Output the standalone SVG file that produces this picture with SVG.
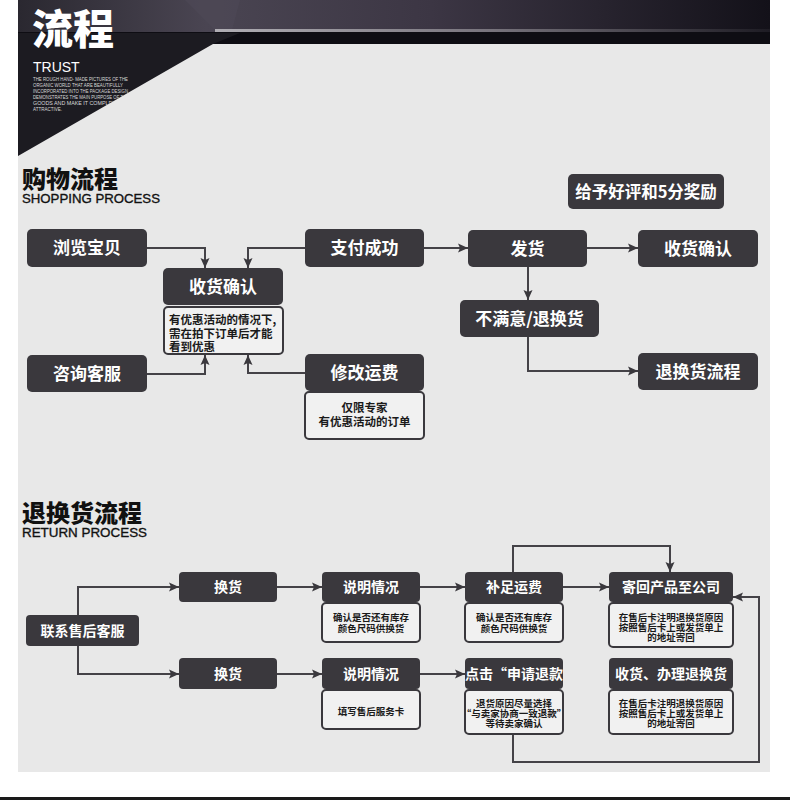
<svg xmlns="http://www.w3.org/2000/svg" width="790" height="800" viewBox="0 0 790 800">
<defs>
<style>
.nd{fill:#3a383d}
.nt{fill:#ffffff;font-family:"Noto Sans CJK SC","Liberation Sans",sans-serif;font-weight:700;text-anchor:middle}
.nb{fill:#f1f1f1;stroke:#3a383d;stroke-width:2}
.bt{fill:#1a1a1a;font-family:"Noto Sans CJK SC","Liberation Sans",sans-serif;font-weight:700;text-anchor:middle}
.cn{fill:none;stroke:#444247;stroke-width:2}
.hd{fill:#111;font-family:"Noto Sans CJK SC",sans-serif;font-weight:900;font-size:24px}
.en{fill:#111;stroke:#111;stroke-width:0.35;font-family:"Liberation Sans",Arial,sans-serif;font-size:13.5px}
.tiny{fill:#d8d8d8;font-family:"Liberation Sans",Arial,sans-serif;font-size:4.6px}
</style>
<marker id="ah" markerUnits="userSpaceOnUse" markerWidth="10" markerHeight="10" viewBox="0 0 10 10" refX="10" refY="5" orient="auto">
<path d="M0,0.5 L10,5 L0,9.5 L2,5 z" fill="#3a383d"/>
</marker>
<linearGradient id="topg" x1="0" y1="0" x2="1" y2="0">
<stop offset="0" stop-color="#2a2830"/>
<stop offset="0.25" stop-color="#4a4552"/>
<stop offset="0.55" stop-color="#3c3644"/>
<stop offset="1" stop-color="#131119"/>
</linearGradient>
<linearGradient id="lineg" x1="0" y1="0" x2="1" y2="0">
<stop offset="0" stop-color="#b0aeb4"/>
<stop offset="0.5" stop-color="#77737c"/>
<stop offset="1" stop-color="#1e1c24"/>
</linearGradient>
<clipPath id="tri"><polygon points="18,33 240,33 213,44 18,156"/></clipPath>
</defs>
<rect x="0" y="0" width="790" height="800" fill="#ffffff"/>
<rect x="18" y="0" width="752" height="772" fill="#e8e8e8"/>
<g id="header">
<rect x="18" y="0" width="752" height="33" fill="url(#topg)"/>
<polygon points="185,0 240,0 232,30 215,30" fill="#4e4956" opacity="0.6"/>
<rect x="215" y="29" width="555" height="3" fill="url(#lineg)"/>
<rect x="18" y="32" width="752" height="12" fill="#0e0d13"/>
<polygon points="18,33 240,33 213,44 18,156" fill="#1c1b21"/>
<text x="32" y="44" fill="#ffffff" font-family="Noto Sans CJK SC,sans-serif" font-weight="900" font-size="41">流程</text>
<text x="33" y="72" fill="#ffffff" font-family="Liberation Sans,Arial,sans-serif" font-size="14">TRUST</text>
<g clip-path="url(#tri)">
<text class="tiny" x="33" y="81" textLength="95" lengthAdjust="spacingAndGlyphs">THE ROUGH HAND- MADE PICTURES OF THE</text>
<text class="tiny" x="33" y="87" textLength="90" lengthAdjust="spacingAndGlyphs">ORGANIC WORLD THAT ARE BEAUTIFULLY</text>
<text class="tiny" x="33" y="93" textLength="95" lengthAdjust="spacingAndGlyphs">INCORPORATED INTO THE PACKAGE DESIGN</text>
<text class="tiny" x="33" y="99" textLength="96" lengthAdjust="spacingAndGlyphs">DEMONSTRATES THE MAIN PURPOSE OF THE</text>
<text class="tiny" x="33" y="105" textLength="95" lengthAdjust="spacingAndGlyphs">GOODS AND MAKE IT COMPLEX AND</text>
<text class="tiny" x="33" y="111" textLength="29" lengthAdjust="spacingAndGlyphs">ATTRACTIVE.</text>
</g>
</g>
<rect x="0" y="797" width="790" height="3" fill="#1a1a1a"/>

<g id="sec1">
<text class="hd" x="22" y="188">购物流程</text>
<text class="en" x="22" y="203" textLength="138" lengthAdjust="spacingAndGlyphs">SHOPPING PROCESS</text>
</g>
<g id="sec2">
<text class="hd" x="22" y="522">退换货流程</text>
<text class="en" x="22" y="537" textLength="125" lengthAdjust="spacingAndGlyphs">RETURN PROCESS</text>
</g>

<g id="connectors">
<path class="cn" d="M147,248 H205 V268" marker-end="url(#ah)"/>
<path class="cn" d="M305,248 H248 V268" marker-end="url(#ah)"/>
<path class="cn" d="M147,374 H205 V355" marker-end="url(#ah)"/>
<path class="cn" d="M305,373 H248 V355" marker-end="url(#ah)"/>
<path class="cn" d="M424,248 H468" marker-end="url(#ah)"/>
<path class="cn" d="M587,248 H638" marker-end="url(#ah)"/>
<path class="cn" d="M528,267 V300" marker-end="url(#ah)"/>
<path class="cn" d="M528,337 V371 H638" marker-end="url(#ah)"/>
<path class="cn" d="M78,615 V587 H179" marker-end="url(#ah)"/>
<path class="cn" d="M78,646 V674 H179" marker-end="url(#ah)"/>
<path class="cn" d="M277,587 H322" marker-end="url(#ah)"/>
<path class="cn" d="M277,674 H322" marker-end="url(#ah)"/>
<path class="cn" d="M420,587 H465" marker-end="url(#ah)"/>
<path class="cn" d="M420,674 H465" marker-end="url(#ah)"/>
<path class="cn" d="M563,587 H609" marker-end="url(#ah)"/>
<path class="cn" d="M513,572 V546 H670 V572" marker-end="url(#ah)"/>
<path class="cn" d="M513,734 V762 H759 V597 H733" marker-end="url(#ah)"/>
</g>

<g id="n-browse"><rect class="nd" x="27" y="229" width="120" height="38" rx="5"/><text class="nt" x="87" y="254" font-size="17">浏览宝贝</text></g>
<g id="n-confirm1"><rect class="nd" x="163" y="268" width="120" height="37" rx="5"/><text class="nt" x="223" y="292.5" font-size="17">收货确认</text>
<rect class="nb" x="164" y="307" width="119" height="47" rx="4"/>
<text class="bt" x="169" y="323.5" font-size="11.5" style="text-anchor:start">有优惠活动的情况下,</text>
<text class="bt" x="169" y="337.5" font-size="11.5" style="text-anchor:start">需在拍下订单后才能</text>
<text class="bt" x="169" y="350.5" font-size="11.5" style="text-anchor:start">看到优惠</text></g>
<g id="n-paid"><rect class="nd" x="305" y="229" width="119" height="38" rx="5"/><text class="nt" x="364.5" y="254" font-size="17">支付成功</text></g>
<g id="n-consult"><rect class="nd" x="27" y="355" width="120" height="37" rx="5"/><text class="nt" x="87" y="379.5" font-size="17">咨询客服</text></g>
<g id="n-freight"><rect class="nd" x="305" y="354" width="119" height="37" rx="5"/><text class="nt" x="364.5" y="378.5" font-size="17">修改运费</text>
<rect class="nb" x="305" y="392" width="119" height="47" rx="4"/>
<text class="bt" x="364.5" y="412" font-size="11.5">仅限专家</text>
<text class="bt" x="364.5" y="426" font-size="11.5">有优惠活动的订单</text></g>
<g id="n-review"><rect class="nd" x="568" y="174" width="156" height="35" rx="5"/><text class="nt" x="646" y="197.5" font-size="16.5">给予好评和5分奖励</text></g>
<g id="n-ship"><rect class="nd" x="468" y="230" width="119" height="37" rx="5"/><text class="nt" x="527.5" y="254.5" font-size="17">发货</text></g>
<g id="n-confirm2"><rect class="nd" x="638" y="230" width="120" height="37" rx="5"/><text class="nt" x="698" y="254.5" font-size="17">收货确认</text></g>
<g id="n-unsatisfied"><rect class="nd" x="460" y="300" width="139" height="37" rx="5"/><text class="nt" x="529.5" y="324.5" font-size="17">不满意/退换货</text></g>
<g id="n-returnflow"><rect class="nd" x="638" y="353" width="120" height="37" rx="5"/><text class="nt" x="698" y="377.5" font-size="17">退换货流程</text></g>

<g id="r-contact"><rect class="nd" x="26" y="615" width="113" height="31" rx="4"/><text class="nt" x="82.5" y="635.5" font-size="14">联系售后客服</text></g>
<g id="r-exchange1"><rect class="nd" x="179" y="572" width="98" height="30" rx="4"/><text class="nt" x="228" y="592" font-size="14">换货</text></g>
<g id="r-exchange2"><rect class="nd" x="179" y="658" width="98" height="31" rx="4"/><text class="nt" x="228" y="678.5" font-size="14">换货</text></g>
<g id="r-explain1"><rect class="nd" x="322" y="572" width="98" height="30" rx="4"/><text class="nt" x="371" y="592" font-size="14">说明情况</text>
<rect class="nb" x="322" y="603" width="98" height="39" rx="4"/>
<text class="bt" x="371" y="620.5" font-size="9.5">确认是否还有库存</text>
<text class="bt" x="371" y="631.5" font-size="9.5">颜色尺码供换货</text></g>
<g id="r-explain2"><rect class="nd" x="322" y="658" width="98" height="31" rx="4"/><text class="nt" x="371" y="678.5" font-size="14">说明情况</text>
<rect class="nb" x="322" y="690" width="98" height="39" rx="4"/>
<text class="bt" x="371" y="714.5" font-size="9.5">填写售后服务卡</text></g>
<g id="r-freight"><rect class="nd" x="465" y="572" width="98" height="30" rx="4"/><text class="nt" x="514" y="592" font-size="14">补足运费</text>
<rect class="nb" x="465" y="603" width="98" height="39" rx="4"/>
<text class="bt" x="514" y="620.5" font-size="9.5">确认是否还有库存</text>
<text class="bt" x="514" y="631.5" font-size="9.5">颜色尺码供换货</text></g>
<g id="r-refund"><rect class="nd" x="465" y="658" width="98" height="31" rx="4"/><text class="nt" x="514" y="678.5" font-size="14">点击“申请退款</text>
<rect class="nb" x="465" y="690" width="98" height="44" rx="4"/>
<text class="bt" x="514" y="706.5" font-size="9.5">退货原因尽量选择</text>
<text class="bt" x="514" y="716.5" font-size="9.5">“与卖家协商一致退款”</text>
<text class="bt" x="514" y="726.5" font-size="9.5">等待卖家确认</text></g>
<g id="r-sendback"><rect class="nd" x="609" y="572" width="124" height="30" rx="4"/><text class="nt" x="671" y="592" font-size="14">寄回产品至公司</text>
<rect class="nb" x="609" y="603" width="124" height="44" rx="4"/>
<text class="bt" x="671" y="620.5" font-size="9.5">在售后卡注明退换货原因</text>
<text class="bt" x="671" y="630.5" font-size="9.5">按照售后卡上或发货单上</text>
<text class="bt" x="671" y="640.5" font-size="9.5">的地址寄回</text></g>
<g id="r-receive"><rect class="nd" x="609" y="658" width="124" height="31" rx="4"/><text class="nt" x="671" y="678.5" font-size="14">收货、办理退换货</text>
<rect class="nb" x="609" y="690" width="124" height="44" rx="4"/>
<text class="bt" x="671" y="706.5" font-size="9.5">在售后卡注明退换货原因</text>
<text class="bt" x="671" y="716.5" font-size="9.5">按照售后卡上或发货单上</text>
<text class="bt" x="671" y="726.5" font-size="9.5">的地址寄回</text></g>
</svg>
